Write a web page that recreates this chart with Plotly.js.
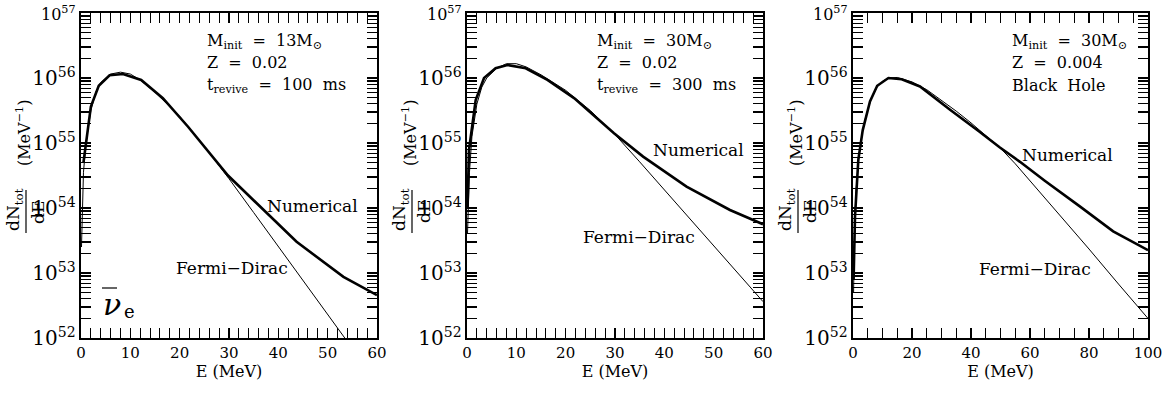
<!DOCTYPE html>
<html>
<head>
<meta charset="utf-8">
<script src="https://cdn.plot.ly/plotly-3.0.1.min.js"></script>
<style>html,body{margin:0;padding:0;background:#fff}#chart{width:1172px;height:393px}</style>
</head>
<body>
<div id="chart"></div>
<script>
// ---------------- data ----------------
// Panel 1: M_init = 13 Msun, Z = 0.02, t_revive = 100 ms
const p1NumE  = [0.5, 2.0, 3.6, 5.8, 8.5, 12.2, 16.6, 21.7, 29.8, 37.0, 43.7, 53.2, 60.0];
const p1NumN  = [5.01e54, 3.63e55, 7.59e55, 1.10e56, 1.15e56, 9.33e55, 4.90e55, 1.78e55, 3.16e54, 9.33e53, 3.02e53, 8.71e52, 4.57e52];
const p1FdE   = [0.1, 0.5, 1, 2, 3, 4, 6, 8, 10, 12, 15, 20, 25, 30, 35, 40, 45, 50, 53.5, 55];
const p1FdN   = [2.51e53, 3.55e54, 1.00e55, 3.16e55, 6.03e55, 8.51e55, 1.15e56, 1.23e56, 1.15e56, 9.33e55, 6.03e55, 2.57e55, 8.91e54, 2.82e54, 8.51e53, 2.57e53, 7.76e52, 2.34e52, 1.00e52, 6.92e51];

// Panel 2: M_init = 30 Msun, Z = 0.02, t_revive = 300 ms
const p2NumE  = [0.1, 0.4, 1.76, 3.45, 5.8, 8.2, 11.9, 16.3, 21.7, 29.8, 35.7, 44.5, 53.3, 60.0];
const p2NumN  = [1.00e54, 7.76e54, 4.57e55, 1.00e56, 1.41e56, 1.58e56, 1.41e56, 9.33e55, 4.90e55, 1.41e55, 6.17e54, 2.14e54, 9.33e53, 5.62e53];
const p2FdE   = [0.1, 0.5, 1, 2, 3, 4, 6, 8, 10, 12, 15, 20, 25, 30, 35, 40, 45, 50, 55, 60];
const p2FdN   = [3.98e53, 3.55e54, 1.26e55, 3.98e55, 7.24e55, 1.00e56, 1.41e56, 1.66e56, 1.66e56, 1.48e56, 1.12e56, 6.46e55, 3.16e55, 1.35e55, 5.13e54, 1.91e54, 7.08e53, 2.63e53, 9.77e52, 3.63e52];

// Panel 3: M_init = 30 Msun, Z = 0.004, Black Hole
const p3NumE  = [0.2, 0.68, 1.8, 3.3, 5.76, 8.2, 12.0, 16.5, 22.7, 32.9, 43.0, 49.8, 56.6, 65, 77, 88.2, 100];
const p3NumN  = [7.94e52, 7.41e53, 5.50e54, 1.58e55, 4.37e55, 7.59e55, 1.00e56, 9.55e55, 7.41e55, 3.24e55, 1.48e55, 8.51e54, 5.13e54, 2.63e54, 1.05e54, 4.37e53, 2.24e53];
const p3FdE   = [0.2, 0.5, 1, 2, 3, 4, 6, 8, 10, 12, 15, 20, 25, 30, 35, 40, 45, 50, 55, 60, 70, 80, 90, 100];
const p3FdN   = [5.01e52, 3.98e53, 1.78e54, 6.31e54, 1.32e55, 2.24e55, 4.57e55, 7.08e55, 8.91e55, 1.00e56, 1.02e56, 8.71e55, 6.61e55, 4.57e55, 3.09e55, 2.04e55, 1.32e55, 8.32e54, 4.79e54, 2.63e54, 7.94e53, 2.34e53, 6.76e52, 2.00e52];

// axis / label text
const xRanges = [[0, 60], [0, 60], [0, 100]];
const xMajor  = [10, 10, 20];
const xMinor  = [2, 2, 5];
const yDecades = [52, 53, 54, 55, 56, 57];
const topTickLabel = '10<sup>57</sup>';
const infoLines = [
  ['M<sub>init</sub>  =  13M<sub>⊙</sub>', 'Z  =  0.02', 't<sub>revive</sub>  =  100  ms'],
  ['M<sub>init</sub>  =  30M<sub>⊙</sub>', 'Z  =  0.02', 't<sub>revive</sub>  =  300  ms'],
  ['M<sub>init</sub>  =  30M<sub>⊙</sub>', 'Z  =  0.004', 'Black  Hole']
];
const numLabel = 'Numerical';
const fdLabel  = 'Fermi−Dirac';
const xTitle   = 'E (MeV)';

// ---------------- layout geometry (pixels) ----------------
const W = 1172, H = 393;
const FONT = 'DejaVu Serif';
const panelLeft  = [81, 467, 853];
const panelRight = [377, 763, 1148];
const plotTop = 13, plotBot = 338;
const px = x => x / W;
const py = y => 1 - y / H;

const infoX   = [205, 595, 1010];
const numPos  = [[265, 206], [651, 150], [1020, 155]];
const fdPos   = [[174, 268], [581, 237], [977, 269]];

const numSeries = [[p1NumE, p1NumN], [p2NumE, p2NumN], [p3NumE, p3NumN]];
const fdSeries  = [[p1FdE, p1FdN], [p2FdE, p2FdN], [p3FdE, p3FdN]];

// minor tick positions for the main (bottom / left) sides
const yMinorVals = [];
for (let d = 0; d < yDecades.length - 1; d++)
  for (let k = 2; k <= 9; k++) yMinorVals.push(k * Math.pow(10, yDecades[d]));

const data = [];
const layout = {
  width: W, height: H,
  margin: {l: 0, r: 0, t: 0, b: 0},
  paper_bgcolor: '#fff', plot_bgcolor: '#fff',
  showlegend: false,
  font: {family: FONT, color: '#000', size: 15},
  annotations: [], shapes: []
};

for (let i = 0; i < 3; i++) {
  const sfx = i === 0 ? '' : String(i + 1);
  const osfx = String(i + 4);
  const xa = 'x' + sfx, ya = 'y' + sfx;
  data.push({x: numSeries[i][0], y: numSeries[i][1], xaxis: xa, yaxis: ya, mode: 'lines',
             line: {color: '#000', width: 2.6}, name: 'Numerical', hoverinfo: 'skip'});
  data.push({x: fdSeries[i][0], y: fdSeries[i][1], xaxis: xa, yaxis: ya, mode: 'lines',
             line: {color: '#000', width: 1}, name: 'Fermi-Dirac', hoverinfo: 'skip'});
  data.push({x: [], y: [], xaxis: 'x' + osfx, yaxis: ya, mode: 'lines', hoverinfo: 'skip', showlegend: false});
  data.push({x: [], y: [], xaxis: xa, yaxis: 'y' + osfx, mode: 'lines', hoverinfo: 'skip', showlegend: false});

  const xMinorVals = [];
  for (let v = xRanges[i][0] + xMinor[i]; v < xRanges[i][1]; v += xMinor[i])
    if (Math.abs(v / xMajor[i] - Math.round(v / xMajor[i])) > 1e-6) xMinorVals.push(v);

  layout['xaxis' + sfx] = {
    domain: [px(panelLeft[i]), px(panelRight[i])], anchor: ya,
    range: xRanges[i], tick0: 0, dtick: xMajor[i],
    ticks: 'inside', ticklen: 10, tickwidth: 1.3, tickcolor: '#000',
    showline: true, linewidth: 2.2, linecolor: '#000', mirror: 'allticks',
    showgrid: false, zeroline: false,
    minor: {dtick: xMinor[i], ticks: 'inside', ticklen: 5, tickwidth: 1.1, tickcolor: '#000', showgrid: false},
    tickfont: {family: FONT, size: 15, color: '#000'},
    title: {text: xTitle, font: {family: FONT, size: 16, color: '#000'}, standoff: 4}
  };
  layout['yaxis' + sfx] = {
    domain: [py(plotBot), py(plotTop)], anchor: xa,
    type: 'log', range: [52, 57], dtick: 1, exponentformat: 'power',
    ticks: 'inside', ticklen: 10, tickwidth: 1.3, tickcolor: '#000',
    showline: true, linewidth: 2.2, linecolor: '#000', mirror: 'allticks',
    showgrid: false, zeroline: false,
    minor: {dtick: 'D1', ticks: 'inside', ticklen: 5, tickwidth: 1.1, tickcolor: '#000', showgrid: false},
    tickfont: {family: FONT, size: 16, color: '#000'}
  };
  // overlay axes adding the minor ticks on the bottom / left sides
  layout['xaxis' + osfx] = {
    overlaying: xa, anchor: ya, side: 'bottom', range: xRanges[i],
    tickmode: 'array', tickvals: xMinorVals, showticklabels: false,
    ticks: 'inside', ticklen: 5, tickwidth: 1.1, tickcolor: '#000',
    showline: false, showgrid: false, zeroline: false
  };
  layout['yaxis' + osfx] = {
    overlaying: ya, anchor: xa, side: 'left', type: 'log', range: [52, 57],
    tickmode: 'array', tickvals: yMinorVals, showticklabels: false,
    ticks: 'inside', ticklen: 5, tickwidth: 1.1, tickcolor: '#000',
    showline: false, showgrid: false, zeroline: false
  };

  // top decade label (culled by the library at the page edge)
  layout.annotations.push({xref: 'paper', yref: 'paper', x: px(panelLeft[i] - 3), y: py(plotTop + 1),
    xanchor: 'right', yanchor: 'middle', showarrow: false, text: topTickLabel,
    font: {family: FONT, size: 16, color: '#000'}});

  // info text
  const infoY = [42, 63, 85];
  infoLines[i].forEach((t, k) => {
    layout.annotations.push({xref: 'paper', yref: 'paper', x: px(infoX[i]), y: py(infoY[k]),
      xanchor: 'left', yanchor: 'middle', showarrow: false, text: t,
      font: {family: FONT, size: 16, color: '#000'}});
  });
  layout.annotations.push({xref: 'paper', yref: 'paper', x: px(numPos[i][0]), y: py(numPos[i][1]),
    xanchor: 'left', yanchor: 'middle', showarrow: false, text: numLabel,
    font: {family: FONT, size: 17, color: '#000'}});
  layout.annotations.push({xref: 'paper', yref: 'paper', x: px(fdPos[i][0]), y: py(fdPos[i][1]),
    xanchor: 'left', yanchor: 'middle', showarrow: false, text: fdLabel,
    font: {family: FONT, size: 17, color: '#000'}});

  // y-axis title: dN_tot/dE (MeV^-1), rotated
  const ax0 = panelLeft[i];
  layout.annotations.push({xref: 'paper', yref: 'paper', x: px(ax0 - 58), y: py(133),
    xanchor: 'center', yanchor: 'middle', showarrow: false, textangle: -90,
    text: '(MeV<sup>−1</sup>)', font: {family: FONT, size: 16, color: '#000'}});
  layout.annotations.push({xref: 'paper', yref: 'paper', x: px(ax0 - 67), y: py(210),
    xanchor: 'center', yanchor: 'middle', showarrow: false, textangle: -90,
    text: 'dN<sub>tot</sub>', font: {family: FONT, size: 17, color: '#000'}});
  layout.annotations.push({xref: 'paper', yref: 'paper', x: px(ax0 - 43), y: py(212),
    xanchor: 'center', yanchor: 'middle', showarrow: false, textangle: -90,
    text: 'dE', font: {family: FONT, size: 17, color: '#000'}});
  layout.shapes.push({type: 'line', xref: 'paper', yref: 'paper',
    x0: px(ax0 - 55), x1: px(ax0 - 55), y0: py(190), y1: py(233),
    line: {color: '#000', width: 1.2}});
}

// anti-electron-neutrino symbol in panel 1
layout.annotations.push({xref: 'paper', yref: 'paper', x: px(101), y: py(304),
  xanchor: 'left', yanchor: 'middle', showarrow: false,
  text: '<i>ν</i>', font: {family: FONT, size: 30, color: '#000'}});
layout.annotations.push({xref: 'paper', yref: 'paper', x: px(122), y: py(311),
  xanchor: 'left', yanchor: 'middle', showarrow: false,
  text: 'e', font: {family: FONT, size: 18, color: '#000'}});
layout.shapes.push({type: 'line', xref: 'paper', yref: 'paper',
  x0: px(102), x1: px(117), y0: py(288), y1: py(288), line: {color: '#000', width: 1.2}});

Plotly.newPlot('chart', data, layout, {displayModeBar: false, staticPlot: true});
</script>
</body>
</html>
